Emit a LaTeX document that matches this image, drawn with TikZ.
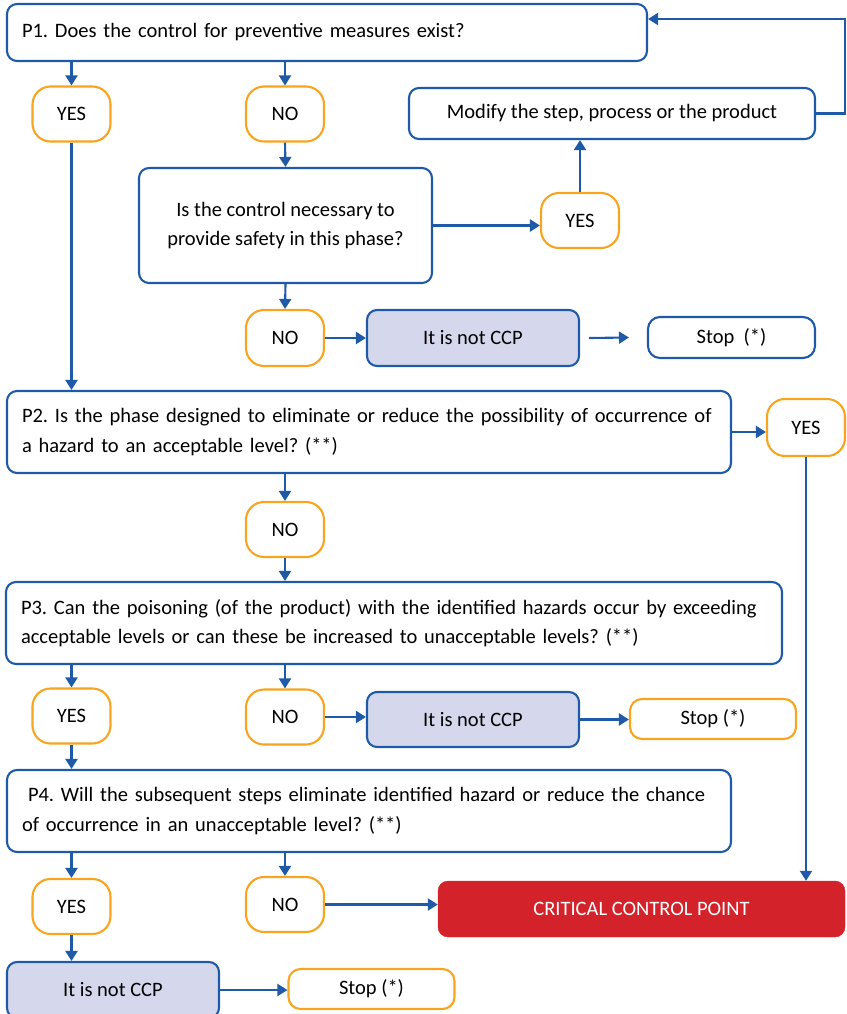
\documentclass[tikz,border=0pt]{standalone}
\usepackage{fontspec}
\setmainfont{Carlito}
\usetikzlibrary{arrows.meta}
\definecolor{cblue}{HTML}{1F5AA8}
\definecolor{corange}{HTML}{F7A521}
\definecolor{clav}{HTML}{D5D8EC}
\definecolor{cred}{HTML}{D3222A}
\frenchspacing
\begin{document}
\begin{tikzpicture}[x=1pt,y=-1pt,
  font=\fontsize{20.5}{29.5}\selectfont,
  box/.style={draw=cblue, line width=2.1pt, rounded corners=10pt, fill=white, inner sep=0pt},
  qbox/.style={box, inner xsep=15pt, align=left},
  pill/.style={draw=corange, line width=2.1pt, rounded corners=18pt, fill=white, minimum width=78pt, minimum height=55pt, inner sep=0pt},
  ncp/.style={box, fill=clav, minimum width=212pt, minimum height=56pt},
  stopb/.style={draw=corange, line width=2.1pt, rounded corners=12pt, fill=white, minimum width=166pt, minimum height=40pt, inner sep=0pt},
  ccp/.style={draw=cred, fill=cred, rounded corners=10pt, text=white, minimum width=407pt, minimum height=56pt, inner sep=0pt},
  arr/.style={draw=cblue, line width=2.1pt, -{Triangle[length=10pt,width=12pt]}}
]
\useasboundingbox (0,0) rectangle (846,1014);

% Row 1
\node[qbox, text width=610pt, minimum height=57pt] (P1) at (327,32.5) {P1. Does the control for preventive measures exist?};
\node[pill] (Y1) at (71.5,114) {YES};
\node[pill] (N1) at (285,114) {NO};
\node[box, minimum width=406pt, minimum height=51pt] (MOD) at (612,113.5) {Modify the step, process or the product};
\node[box, minimum width=293pt, minimum height=115pt, align=center] (Q) at (285.5,225.5) {Is the control necessary to\\provide safety in this phase?};
\node[pill] (Y2) at (580,220.5) {YES};
\node[pill, minimum height=56pt] (N2) at (285,338) {NO};
\node[ncp] (C1) at (473,338) {It is not CCP};
\node[box, rounded corners=12pt, minimum width=167pt, minimum height=41pt] (S1) at (731.5,337.5) {Stop\ \ (*)};

% P2
\node[qbox, text width=694pt, minimum height=82pt] (P2) at (369,432) {P2. Is the phase designed to eliminate or reduce the possibility of occurrence of\\a hazard to an acceptable level? (**)};
\node[pill, minimum height=57pt] (Y3) at (806,427.5) {YES};
\node[pill] (N3) at (285,529.5) {NO};

% P3
\node[qbox, text width=746pt, minimum height=82pt] (P3) at (394,623) {P3. Can the poisoning (of the product) with the identified hazards occur by exceeding\\acceptable levels or can these be increased to unacceptable levels? (**)};
\node[pill] (Y4) at (71.5,716) {YES};
\node[pill] (N4) at (285,717) {NO};
\node[ncp, minimum height=55pt] (C2) at (473,719.5) {It is not CCP};
\node[stopb] (S2) at (713,719) {Stop (*)};

% P4
\node[qbox, text width=694pt, minimum height=82pt] (P4) at (369,811) {\hspace{6pt}P4. Will the subsequent steps eliminate identified hazard or reduce the chance\\of occurrence in an unacceptable level? (**)};
\node[pill] (Y5) at (71.5,906.5) {YES};
\node[pill] (N5) at (285,904.5) {NO};
\node[ccp] (CCP) at (641.5,909) {CRITICAL CONTROL POINT};
\node[ncp] (C3) at (113,990) {It is not CCP};
\node[stopb] (S3) at (371.5,989) {Stop (*)};

% Connectors
\draw[arr] (Y1.north |- P1.south) -- (Y1.north);
\draw[arr] (N1.north |- P1.south) -- (N1.north);
\draw[arr] (N1.south) -- (Q.north);
\draw[arr] (Q.east) -- (Q.east -| Y2.west);
\draw[arr] (Y2.north) -- (Y2.north |- MOD.south);
\draw[arr] (MOD.east) -- ++(29,0) |- ([yshift=13.5pt]P1.east);
\draw[arr] (Q.south) -- (N2.north);
\draw[arr] (N2.east) -- (C1.west);
\draw[arr] ([xshift=9pt]C1.east) -- ([xshift=-18pt]S1.west);
\draw[arr] (Y1.south) -- (Y1.south |- P2.north);

\draw[arr] (P2.east) -- (P2.east -| Y3.west);
\draw[arr] (Y3.south) -- (Y3.south |- CCP.north);
\draw[arr] (N3.north |- P2.south) -- (N3.north);
\draw[arr] (N3.south) -- (N3.south |- P3.north);

\draw[arr] (Y4.north |- P3.south) -- (Y4.north);
\draw[arr] (N4.north |- P3.south) -- (N4.north);
\draw[arr] (N4.east) -- (N4.east -| C2.west);
\draw[arr] (C2.east) -- (C2.east -| S2.west);
\draw[arr] (Y4.south) -- (Y4.south |- P4.north);

\draw[arr] (Y5.north |- P4.south) -- (Y5.north);
\draw[arr] (N5.north |- P4.south) -- (N5.north);
\draw[arr] (N5.east) -- (N5.east -| CCP.west);
\draw[arr] (Y5.south) -- (Y5.south |- C3.north);
\draw[arr] (C3.east) -- (C3.east -| S3.west);
\end{tikzpicture}
\end{document}
